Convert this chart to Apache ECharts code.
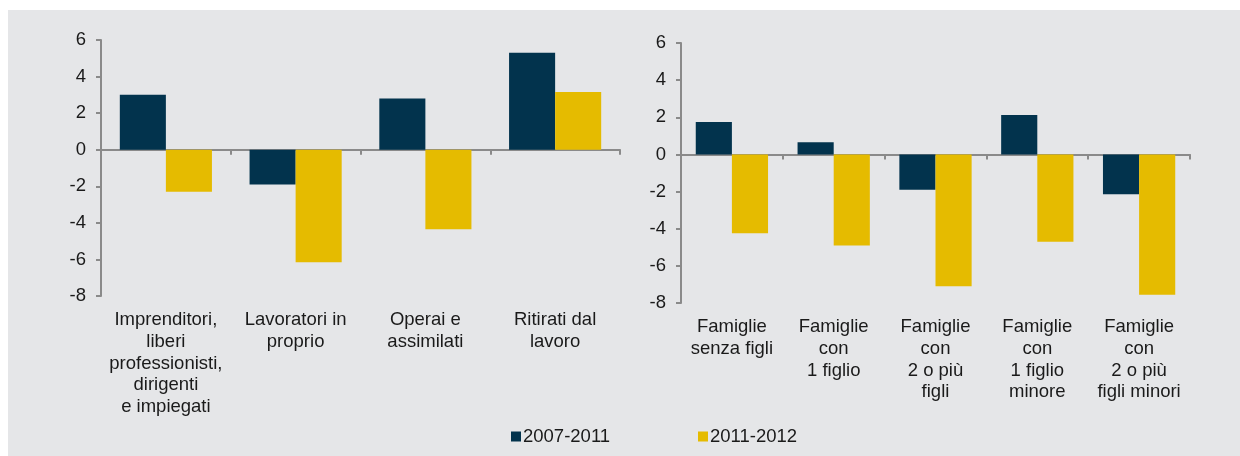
<!DOCTYPE html>
<html>
<head>
<meta charset="utf-8">
<script src="https://cdn.jsdelivr.net/npm/echarts@6/dist/echarts.min.js"></script>
<style>
  html, body { margin: 0; padding: 0; background: #fff; }
  #chart { width: 1240px; height: 456px; }
</style>
</head>
<body>
<div id="chart"></div>
<script>
// categorie professionali (grafico di sinistra)
const catLavoro = [
  "Imprenditori,\nliberi\nprofessionisti,\ndirigenti\ne impiegati",
  "Lavoratori in\nproprio",
  "Operai e\nassimilati",
  "Ritirati dal\nlavoro"
];
const lavoro0711 = [3.0, -1.9, 2.8, 5.3];
const lavoro1112 = [-2.3, -6.15, -4.35, 3.15];

// tipologie familiari (grafico di destra)
const catFamiglie = [
  "Famiglie\nsenza figli",
  "Famiglie\ncon\n1 figlio",
  "Famiglie\ncon\n2 o più\nfigli",
  "Famiglie\ncon\n1 figlio\nminore",
  "Famiglie\ncon\n2 o più\nfigli minori"
];
const famiglie0711 = [1.75, 0.66, -1.9, 2.12, -2.15];
const famiglie1112 = [-4.25, -4.9, -7.1, -4.7, -7.55];

const yTicks = [-8, -6, -4, -2, 0, 2, 4, 6];
const periodi = ["2007-2011", "2011-2012"];

const DARK = "#02334d";
const YELLOW = "#e5bb00";
const AXIS = "#8a8a8a";
const TEXT = "#1a1a1a";
const FONT = "Liberation Sans, Arial, sans-serif";
const FS = 18.5;

const chart = echarts.init(document.getElementById("chart"));

function yAxisFor(grid) {
  return {
    type: "value",
    gridIndex: grid,
    min: yTicks[0],
    max: yTicks[yTicks.length - 1],
    interval: 2,
    splitLine: { show: false },
    axisLine: { show: true, lineStyle: { color: AXIS, width: 2 } },
    axisTick: { show: true, length: 5, lineStyle: { color: AXIS, width: 2 } },
    axisLabel: { color: TEXT, fontSize: FS, fontFamily: FONT, margin: 15 }
  };
}

function xAxesFor(grid, cats, margin) {
  return [
    {
      // etichette in basso
      type: "category",
      gridIndex: grid,
      data: cats,
      position: "bottom",
      axisLine: { show: false, onZero: false },
      axisTick: { show: false },
      axisLabel: {
        interval: 0,
        color: TEXT,
        fontSize: FS,
        fontFamily: FONT,
        lineHeight: 21.8,
        margin: margin,
        verticalAlign: "top"
      }
    },
    {
      // linea dello zero con tacche
      type: "category",
      gridIndex: grid,
      data: cats,
      position: "bottom",
      axisLine: { show: true, onZero: true, lineStyle: { color: AXIS, width: 2 } },
      axisTick: { show: true, length: 5, lineStyle: { color: AXIS, width: 2 } },
      axisLabel: { show: false }
    }
  ];
}

function bars(name, data, color, xi, yi) {
  return {
    name: name,
    type: "bar",
    xAxisIndex: xi,
    yAxisIndex: yi,
    data: data,
    barGap: "0%",
    barCategoryGap: "29%",
    itemStyle: { color: color },
    z: 1
  };
}

chart.setOption({
  backgroundColor: "#fff",
  animation: false,
  textStyle: { fontFamily: FONT },
  graphic: [
    {
      type: "rect",
      z: -10,
      silent: true,
      shape: { x: 8, y: 10, width: 1232, height: 446 },
      style: { fill: "#e5e6e8" }
    }
  ],
  legend: [
    {
      data: [periodi[0]],
      left: 511,
      top: 427,
      padding: 0,
      itemWidth: 10,
      itemHeight: 10,
      icon: "rect",
      textStyle: { color: TEXT, fontSize: FS, fontFamily: FONT, padding: [0, 0, 0, -3] }
    },
    {
      data: [periodi[1]],
      left: 698,
      top: 427,
      padding: 0,
      itemWidth: 10,
      itemHeight: 10,
      icon: "rect",
      textStyle: { color: TEXT, fontSize: FS, fontFamily: FONT, padding: [0, 0, 0, -3] }
    }
  ],
  grid: [
    { left: 101, right: 620, top: 40, bottom: 160 },
    { left: 681, right: 50, top: 43, bottom: 153 }
  ],
  xAxis: [
    ...xAxesFor(0, catLavoro, 13),
    ...xAxesFor(1, catFamiglie, 13)
  ],
  yAxis: [yAxisFor(0), yAxisFor(1)],
  series: [
    bars(periodi[0], lavoro0711, DARK, 0, 0),
    bars(periodi[1], lavoro1112, YELLOW, 0, 0),
    bars(periodi[0], famiglie0711, DARK, 2, 1),
    bars(periodi[1], famiglie1112, YELLOW, 2, 1)
  ]
});
</script>
</body>
</html>
